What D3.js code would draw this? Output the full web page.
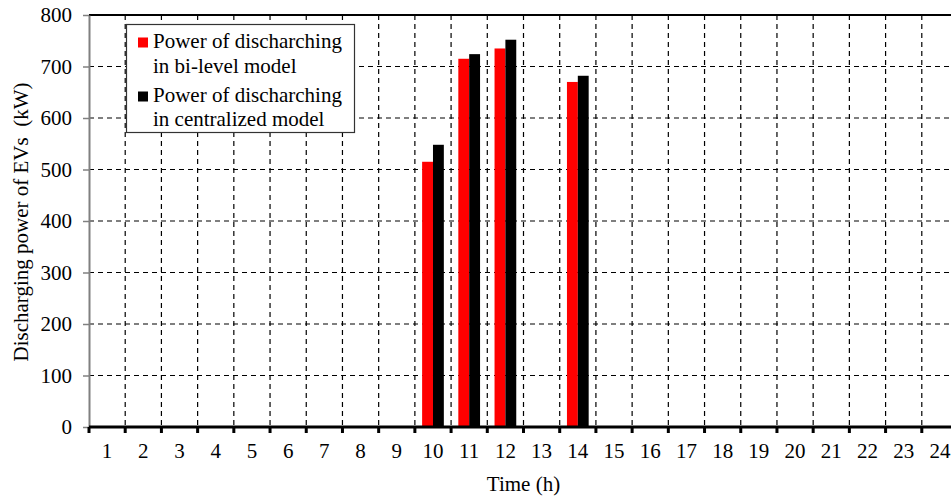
<!DOCTYPE html>
<html>
<head>
<meta charset="utf-8">
<script src="https://cdn.jsdelivr.net/npm/d3@7"></script>
<style>
  html, body { margin: 0; padding: 0; background: #fff; }
  svg { display: block; font-family: "Liberation Serif", "Times New Roman", serif; }
</style>
</head>
<body>
<svg id="chart" width="951" height="498"></svg>
<script>
// Hours of the day
const hours = d3.range(1, 25);
// EV discharging power (kW) per hour
const bilevelPower =     [0,0,0,0,0,0,0,0,0,515,715,735,0,670,0,0,0,0,0,0,0,0,0,0];
const centralizedPower = [0,0,0,0,0,0,0,0,0,548,724,752,0,682,0,0,0,0,0,0,0,0,0,0];
const yTicks = [0, 100, 200, 300, 400, 500, 600, 700, 800];
const legendLines = [["Power of discharching", "in bi-level model"], ["Power of discharching", "in centralized model"]];
const seriesColors = ["#ff0000", "#000000"];

const FS = 21;
const svg = d3.select("#chart");
const plot = { left: 89, right: 958, top: 15, bottom: 427 };

const x = d3.scaleBand().domain(hours).range([plot.left, plot.right]).padding(0);
const y = d3.scaleLinear().domain([0, 800]).range([plot.bottom, plot.top]);
const bw = x.bandwidth();

// Dashed grid: horizontal at each 100 kW, vertical at each hour boundary
const grid = svg.append("g");
grid.selectAll("line.h").data(yTicks.filter(v => v > 0 && v < 800)).join("line")
  .attr("x1", plot.left).attr("x2", plot.right)
  .attr("y1", d => y(d)).attr("y2", d => y(d))
  .attr("stroke", "#000").attr("stroke-width", 1.2).attr("stroke-dasharray", "5,4");
grid.selectAll("line.v").data(hours.slice(1)).join("line")
  .attr("x1", d => x(d)).attr("x2", d => x(d))
  .attr("y1", plot.top).attr("y2", plot.bottom)
  .attr("stroke", "#000").attr("stroke-width", 1.2).attr("stroke-dasharray", "5,4");

// Bars
const series = [bilevelPower, centralizedPower];
series.forEach((vals, si) => {
  svg.append("g").selectAll("rect").data(hours.map((h, i) => ({ h, v: vals[i] })).filter(d => d.v > 0)).join("rect")
    .attr("x", d => x(d.h) + bw * (0.2 + 0.3 * si))
    .attr("width", bw * 0.3)
    .attr("y", d => y(d.v))
    .attr("height", d => y(0) - y(d.v))
    .attr("fill", seriesColors[si]);
});

// Top border
svg.append("line").attr("x1", plot.left).attr("x2", plot.right)
  .attr("y1", plot.top).attr("y2", plot.top)
  .attr("stroke", "#000").attr("stroke-width", 2);

// Y axis
const yAxis = svg.append("g").attr("transform", `translate(${plot.left},0)`)
  .call(d3.axisLeft(y).tickValues(yTicks).tickSize(6).tickPadding(11).tickSizeOuter(0));
yAxis.select(".domain").attr("stroke", "#808080").attr("stroke-width", 2);
yAxis.selectAll(".tick line").attr("stroke", "#808080").attr("stroke-width", 1.5);
yAxis.selectAll(".tick text").attr("font-size", FS).attr("fill", "#000")
  .attr("font-family", "Liberation Serif, Times New Roman, serif");

// X axis: ticks at hour boundaries, labels centred in each hour
const xAxisG = svg.append("g");
xAxisG.append("line").attr("x1", plot.left).attr("x2", plot.right)
  .attr("y1", plot.bottom).attr("y2", plot.bottom)
  .attr("stroke", "#000").attr("stroke-width", 3);
xAxisG.selectAll("rect.tk").data(hours).join("rect")
  .attr("x", d => x(d) - 1.5).attr("y", plot.bottom).attr("width", 3).attr("height", 6)
  .attr("fill", "#000");
xAxisG.selectAll("text").data(hours).join("text")
  .attr("x", d => x(d) + bw / 2).attr("y", 458)
  .attr("text-anchor", "middle").attr("font-size", FS).text(d => d);

// Axis titles
svg.append("text").attr("x", (plot.left + plot.right) / 2).attr("y", 491)
  .attr("text-anchor", "middle").attr("font-size", FS).text("Time (h)");
svg.append("text").attr("transform", "translate(28,222) rotate(-90)")
  .attr("text-anchor", "middle").attr("font-size", FS).attr("xml:space", "preserve")
  .text("Discharging power of EVs  (kW)");

// Legend
const legend = svg.append("g");
legend.append("rect").attr("x", 126.5).attr("y", 24.5).attr("width", 228).attr("height", 108)
  .attr("fill", "#fff").attr("stroke", "#333").attr("stroke-width", 1.2);
const entryY = [37.5, 91.5];
const baselines = [[48, 73], [102, 126]];
legendLines.forEach((lines, i) => {
  legend.append("rect").attr("x", 138).attr("y", entryY[i]).attr("width", 10).attr("height", 10)
    .attr("fill", seriesColors[i]);
  lines.forEach((t, j) => {
    legend.append("text").attr("x", 153).attr("y", baselines[i][j])
      .attr("font-size", FS).text(t);
  });
});
</script>
</body>
</html>
